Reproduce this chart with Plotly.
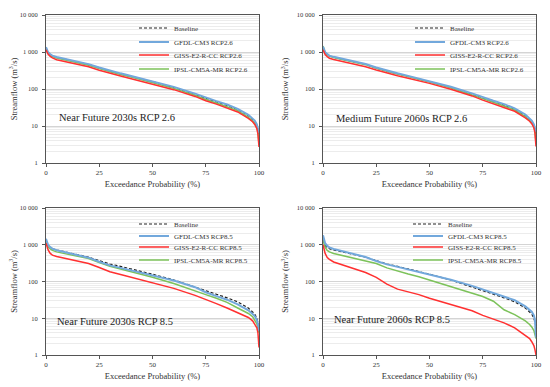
import plotly.graph_objects as go

# Exceedance probability (%)
prob = [0, 0.5, 1, 2, 3, 5, 10, 15, 20, 25, 30, 35, 40, 45, 50, 60, 70, 75, 80, 85, 90, 95, 97, 98, 99, 99.5, 100]

baseline = [1300, 1050, 950, 850, 780, 720, 620, 540, 460, 370, 300, 258, 220, 188, 158, 110, 72, 56, 45, 36, 28, 19, 15, 13, 10, 8, 6]

# Near Future 2030s RCP 2.6
p1_gfdl = [1350, 1080, 980, 870, 800, 735, 630, 550, 470, 380, 310, 265, 225, 192, 162, 114, 75, 58, 47, 38, 29, 20, 16, 14, 11, 9, 6.5]
p1_giss = [1150, 950, 860, 760, 690, 620, 540, 470, 400, 320, 262, 225, 190, 162, 138, 96, 63, 48, 39, 31, 24, 16, 13, 11, 8.5, 6, 2.7]
p1_ipsl = [1250, 1010, 920, 820, 750, 690, 600, 520, 440, 355, 290, 248, 210, 178, 150, 104, 68, 52, 42, 33, 26, 17, 14, 12, 9, 7, 3.2]

# Medium Future 2060s RCP 2.6
p2_gfdl = [1400, 1100, 990, 880, 800, 740, 635, 555, 472, 382, 312, 266, 226, 193, 163, 115, 76, 59, 48, 39, 30, 20.5, 16.5, 14, 11, 9, 7]
p2_giss = [1150, 940, 850, 750, 680, 630, 550, 475, 400, 325, 268, 228, 194, 166, 142, 98, 65, 50, 40, 32, 25, 16.5, 13.5, 11.5, 9, 6.5, 2.8]
p2_ipsl = [1450, 1050, 950, 850, 780, 710, 615, 535, 455, 365, 298, 255, 217, 185, 155, 108, 71, 55, 44, 35, 27, 18, 14.5, 12.5, 9.5, 7.5, 3.5]

# Near Future 2030s RCP 8.5
p3_gfdl = [1450, 1100, 980, 860, 780, 710, 610, 530, 445, 345, 275, 235, 200, 172, 150, 106, 70, 51, 40, 32, 24, 16.5, 13, 11.5, 9, 7, 4.5]
p3_giss = [1100, 850, 720, 580, 520, 480, 420, 370, 310, 240, 185, 155, 130, 110, 95, 65, 42, 33, 25, 19, 14, 10.5, 8.5, 7, 5.5, 4, 1.6]
p3_ipsl = [1250, 1000, 880, 770, 700, 640, 560, 490, 420, 330, 260, 218, 185, 155, 130, 88, 57, 44, 35, 27, 19, 13.5, 11, 9, 7, 5.5, 4]

# Near Future 2060s RCP 8.5
p4_gfdl = [1800, 1300, 1100, 930, 850, 770, 650, 560, 465, 360, 292, 250, 212, 182, 157, 112, 76, 60, 48, 39, 31, 21, 17, 15, 12, 9, 3]
p4_giss = [1000, 700, 580, 450, 400, 340, 275, 225, 175, 130, 85, 62, 52, 44, 35, 24, 16, 12, 9.5, 7.5, 5.5, 3.5, 2.8, 2.3, 1.8, 1.4, 1]
p4_ipsl = [1400, 1000, 850, 700, 640, 580, 500, 430, 370, 310, 235, 190, 160, 135, 110, 75, 48, 39, 29, 17, 12.5, 8.5, 6.8, 5.8, 4.6, 3.8, 2.8]

panel_titles = ["Near Future 2030s RCP 2.6", "Medium Future 2060s RCP 2.6",
                "Near Future 2030s RCP 8.5", "Near Future 2060s RCP 8.5"]
series_names_26 = ["Baseline", "GFDL-CM3 RCP2.6", "GISS-E2-R-CC RCP2.6", "IPSL-CM5A-MR RCP2.6"]
series_names_85 = ["Baseline", "GFDL-CM3 RCP8.5", "GISS-E2-R-CC RCP8.5", "IPSL-CM5A-MR RCP8.5"]
y_tickvals = [1, 10, 100, 1000, 10000]
y_ticktext = ["1", "10", "100", "1 000", "10 000"]
x_tickvals = [0, 25, 50, 75, 100]

OFF = 8  # page body margin of the html page
W, H = 550 - OFF, 387 - OFF
FONT = "Liberation Serif, Times New Roman, serif"
colors = ["#222222", "#72A8DC", "#FF3030", "#7CC25A"]
widths = [1.2, 2.0, 1.5, 1.5]
dashes = ["3px,2px", "solid", "solid", "solid"]


def px_x(p):
    return (p - OFF) / W


def px_y(p):
    return 1 - (p - OFF) / H


# pixel boxes in the 550x387 window: (left, right, top, bottom)
boxes = [(46, 259, 15, 163), (323, 536, 15, 163), (46, 259, 208, 355), (323, 536, 208, 355)]
panels = [
    (series_names_26, [baseline, p1_gfdl, p1_giss, p1_ipsl]),
    (series_names_26, [baseline, p2_gfdl, p2_giss, p2_ipsl]),
    (series_names_85, [baseline, p3_gfdl, p3_giss, p3_ipsl]),
    (series_names_85, [baseline, p4_gfdl, p4_giss, p4_ipsl]),
]
text_pos = [(0.051, 0.31), (0.051, 0.30), (0.042, 0.23), (0.042, 0.24)]
legend_text_x = [176, 452, 176, 450]
legend_rows = [[28, 42, 55, 69], [28, 42, 55, 69], [224, 236, 247, 260], [224, 236, 247, 260]]

fig = go.Figure()
minor_vals = [m * 10 ** e for e in range(0, 4) for m in range(2, 10)]

leg_idx = 0
for i, ((names, series), box) in enumerate(zip(panels, boxes)):
    l, r, t, b = box
    sfx = "" if i == 0 else str(i + 1)
    xa, ya = "x" + sfx, "y" + sfx
    order = [0, 3, 2, 1] if i == 3 else [0, 3, 1, 2]
    leg_names = {}
    for k in range(4):
        leg_idx += 1
        ln = "legend" if leg_idx == 1 else "legend%d" % leg_idx
        leg_names[k] = ln
        fig.layout[ln] = dict(
            x=px_x(legend_text_x[i] - 42), y=px_y(legend_rows[i][k]),
            xanchor="left", yanchor="middle",
            bgcolor="rgba(0,0,0,0)", font=dict(family=FONT, size=7, color="#333"),
            itemwidth=30,
        )
    for k in order:
        fig.add_trace(go.Scatter(
            x=prob, y=series[k], mode="lines", name=names[k],
            line=dict(color=colors[k], width=widths[k], dash=dashes[k]),
            xaxis=xa, yaxis=ya, legend=leg_names[k],
        ))
    fig.layout["xaxis" + sfx] = dict(
        domain=[px_x(l), px_x(r)], anchor=ya, range=[0, 100], automargin=False,
        tickvals=x_tickvals, ticks="outside", ticklen=3, tickcolor="#555",
        showline=True, linecolor="#555", linewidth=1, mirror=True,
        showgrid=False, zeroline=False,
        tickfont=dict(family=FONT, size=7, color="#333"),
        title=dict(text="Exceedance Probability (%)", standoff=4,
                   font=dict(family=FONT, size=8.5, color="#333")),
    )
    fig.layout["yaxis" + sfx] = dict(
        domain=[px_y(b), px_y(t)], anchor=xa, type="log", range=[0, 4], automargin=False,
        tickvals=y_tickvals, ticktext=y_ticktext, ticks="outside", ticklen=3, tickcolor="#555",
        ticklabelstandoff=3,
        showline=True, linecolor="#555", linewidth=1, mirror=True,
        showgrid=True, gridcolor="#d4d4d4", gridwidth=1, zeroline=False,
        minor=dict(tickvals=minor_vals, showgrid=True, gridcolor="#ececec", gridwidth=1, ticks=""),
        tickfont=dict(family=FONT, size=6.5, color="#333"),
        title=dict(text="Streamflow (m<sup>3</sup>/s)", standoff=6,
                   font=dict(family=FONT, size=8.5, color="#333")),
    )
    tx, ty = text_pos[i]
    fig.add_annotation(
        text=panel_titles[i], xref=xa + " domain", yref=ya + " domain",
        x=tx, y=ty, xanchor="left", yanchor="middle", showarrow=False,
        font=dict(family=FONT, size=10.5, color="#222"),
    )

fig.update_layout(
    width=W, height=H, margin=dict(l=0, r=0, t=0, b=0, autoexpand=False),
    paper_bgcolor="white", plot_bgcolor="white", showlegend=True,
)
fig.write_html("out.html")
